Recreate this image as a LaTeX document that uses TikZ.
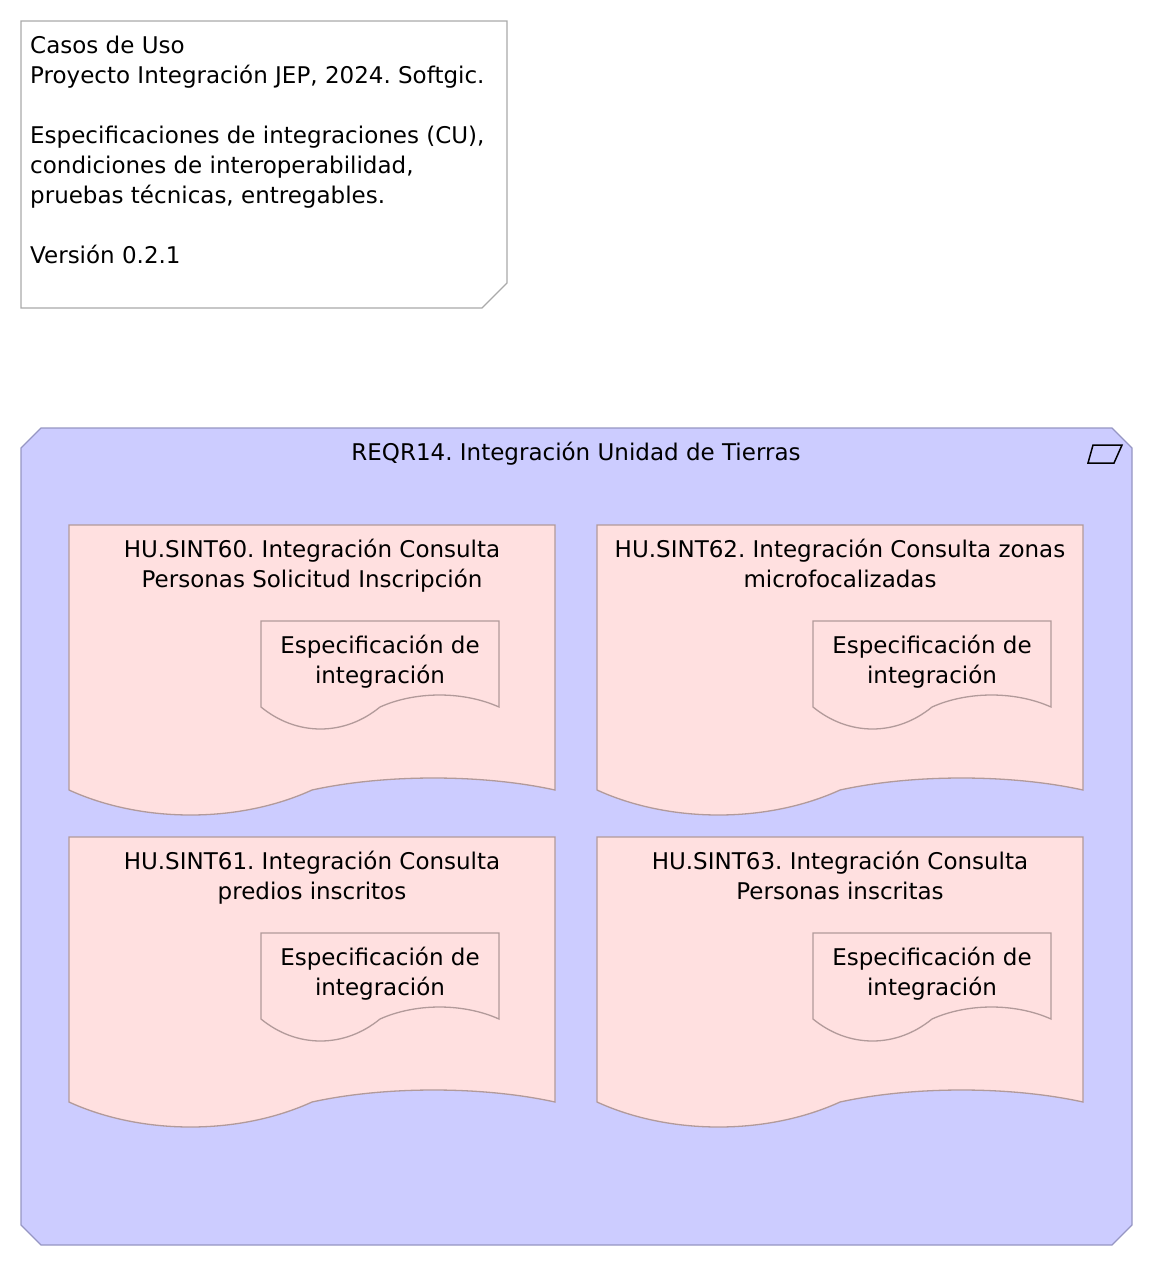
\documentclass[tikz,border=0pt]{standalone}
\usepackage{fontspec}
\setmainfont{DejaVu Sans}
\usepackage{xcolor}
\usetikzlibrary{positioning}

\definecolor{groupfill}{RGB}{204,204,255}
\definecolor{groupline}{RGB}{150,150,195}
\definecolor{storyfill}{RGB}{255,224,224}
\definecolor{storyline}{RGB}{178,154,154}
\definecolor{noteline}{RGB}{170,170,170}

% document shape with a wavy lower edge
\newcommand{\wavebox}[7]{%
  \pgfmathsetmacro\wxm{(#2+#4)/2}
  \pgfmathsetmacro\wqa{#2+0.15*(#4-#2)}
  \pgfmathsetmacro\wqb{#2+0.35*(#4-#2)}
  \pgfmathsetmacro\wqc{#2+0.65*(#4-#2)}
  \pgfmathsetmacro\wqd{#2+0.85*(#4-#2)}
  \pgfmathsetmacro\wyd{#5+1.333*#6}
  \pgfmathsetmacro\wyu{#5-1.333*#7}
  \draw[#1] (#2,#3) -- (#4,#3) -- (#4,#5)
    .. controls (\wqd,\wyu) and (\wqc,\wyu) .. (\wxm,#5)
    .. controls (\wqb,\wyd) and (\wqa,\wyd) .. (#2,#5) -- cycle;
}

\begin{document}
\frenchspacing
\begin{tikzpicture}[x=1pt,y=-1pt,font=\fontsize{23}{30}\selectfont\frenchspacing]
			\tikzstyle{note}=[draw=noteline,line width=1.3pt,fill=white]
			\tikzstyle{grouping}=[draw=groupline,line width=1.3pt,fill=groupfill]
			\tikzstyle{story}=[draw=storyline,line width=1.3pt,fill=storyfill]
			\tikzstyle{artifact}=[draw=storyline,line width=1.3pt,fill=storyfill]
			\tikzstyle{caption}=[inner sep=0pt,anchor=base,align=center]
			\useasboundingbox (0,0) rectangle (1152,1266);
			
			% note (anchored at the baseline of its last line)
			\draw[note] (21,21) -- (507,21) -- (507,283) -- (482,308) -- (21,308) -- cycle;
			\node [caption,anchor=base west,align=left] (info) at (30,263)
				{Casos de Uso\\Proyecto Integración JEP, 2024. Softgic.\\[30pt]
				 Especificaciones de integraciones (CU),\\condiciones de interoperabilidad,\\
				 pruebas técnicas, entregables.\\[30pt]Versión 0.2.1};
			
			% grouping
			\draw[grouping] (21,448) -- (41,428) -- (1112,428) -- (1132,448) -- (1132,1225)
				-- (1112,1245) -- (41,1245) -- (21,1225) -- cycle;
			\node [caption] (reqr14) at (576,460) {REQR14. Integración Unidad de Tierras};
			\draw[black,line width=1.5pt] (1093,445) -- (1122,445) -- (1114,463) -- (1088,463) -- cycle;
			
			% user stories
			\wavebox{story}{69}{525}{555}{790}{25}{12}
			\wavebox{story}{597}{525}{1083}{790}{25}{12}
			\wavebox{story}{69}{837}{555}{1102}{25}{12}
			\wavebox{story}{597}{837}{1083}{1102}{25}{12}
			\node [caption] (sint60) at (312,587) {HU.SINT60. Integración Consulta\\Personas Solicitud Inscripción};
			\node [caption] (sint62) at (840,587) {HU.SINT62. Integración Consulta zonas\\microfocalizadas};
			\node [caption] (sint61) at (312,899) {HU.SINT61. Integración Consulta\\predios inscritos};
			\node [caption] (sint63) at (840,899) {HU.SINT63. Integración Consulta\\Personas inscritas};
			
			% specifications
			\wavebox{artifact}{261}{621}{499}{707}{22}{12}
			\wavebox{artifact}{813}{621}{1051}{707}{22}{12}
			\wavebox{artifact}{261}{933}{499}{1019}{22}{12}
			\wavebox{artifact}{813}{933}{1051}{1019}{22}{12}
			\node [caption] (spec60) at (380,683) {Especificación de\\integración};
			\node [caption] (spec62) at (932,683) {Especificación de\\integración};
			\node [caption] (spec61) at (380,995) {Especificación de\\integración};
			\node [caption] (spec63) at (932,995) {Especificación de\\integración};
\end{tikzpicture}
\end{document}
